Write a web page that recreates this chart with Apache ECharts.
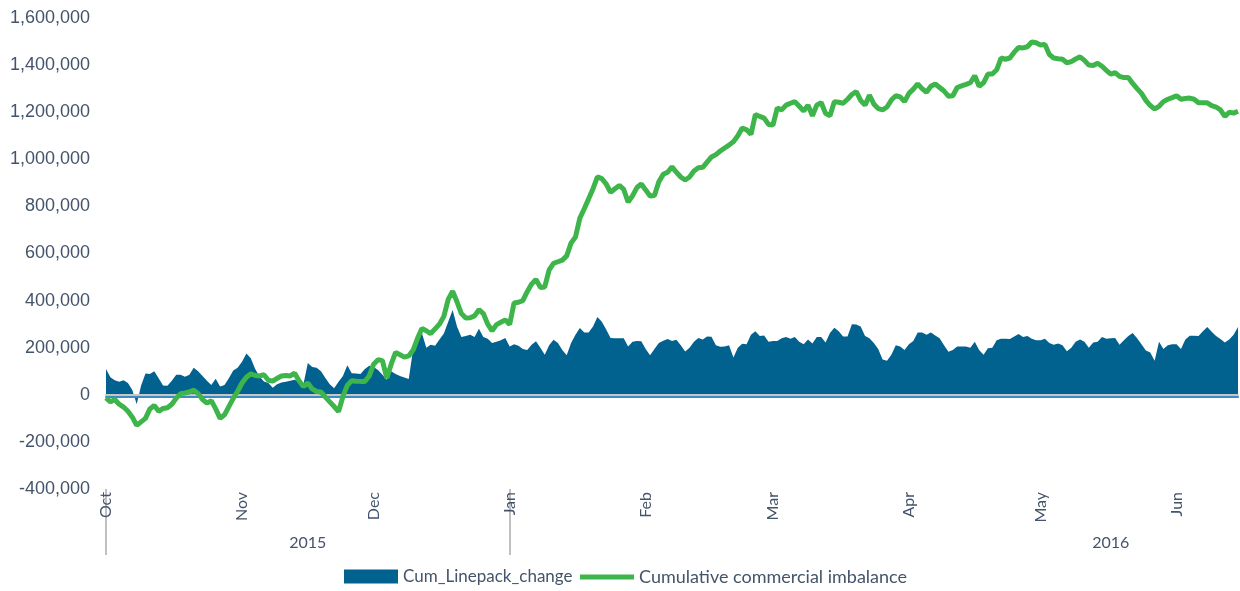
<!DOCTYPE html>
<html>
<head>
<meta charset="utf-8">
<title>Cumulative imbalance vs linepack</title>
<script src="https://cdn.jsdelivr.net/npm/echarts@6/dist/echarts.min.js"></script>
<style>
  html, body { margin: 0; padding: 0; background: #fff; }
  #main { width: 1240px; height: 591px; }
</style>
</head>
<body>
<div id="main"></div>
<script>
// daily values, 1 Oct 2015 .. 15 Jun 2016
let startDate = '2015-10-01'
let dayCount = 259
let monthNames = ['Jan', 'Feb', 'Mar', 'Apr', 'May', 'Jun', 'Jul', 'Aug', 'Sep', 'Oct', 'Nov', 'Dec']
let yTicks = { min: -400000, max: 1600000, step: 200000 }
let separatorIdx = [0, 92]      // Oct 1 2015, Jan 1 2016
let yearLabelIdx = [46, 229]

let linepack = [
  110000, 75000, 62000, 55000, 62000, 50000, 20000, -40000, 40000, 90000,
  88000, 100000, 70000, 40000, 38000, 60000, 85000, 85000, 77000, 85000,
  115000, 100000, 80000, 60000, 42000, 68000, 35000, 42000, 70000, 103000,
  115000, 140000, 175000, 155000, 110000, 78000, 57000, 50000, 30000, 45000,
  52000, 55000, 60000, 64000, 55000, 45000, 135000, 118000, 115000, 100000,
  71000, 45000, 28000, 55000, 80000, 125000, 92000, 90000, 88000, 110000,
  123000, 118000, 105000, 85000, 64000, 100000, 88000, 80000, 73000, 67000,
  195000, 235000, 262000, 200000, 213000, 208000, 235000, 260000, 310000, 360000,
  290000, 245000, 250000, 255000, 245000, 280000, 245000, 238000, 220000, 225000,
  232000, 241000, 205000, 215000, 208000, 195000, 190000, 213000, 227000, 200000,
  170000, 210000, 234000, 220000, 190000, 168000, 220000, 255000, 284000, 265000,
  265000, 290000, 330000, 310000, 277000, 241000, 240000, 240000, 240000, 205000,
  225000, 228000, 227000, 195000, 168000, 195000, 220000, 230000, 237000, 228000,
  234000, 210000, 184000, 200000, 225000, 241000, 235000, 248000, 247000, 210000,
  204000, 205000, 210000, 158000, 200000, 217000, 215000, 255000, 270000, 250000,
  252000, 225000, 228000, 228000, 240000, 245000, 238000, 245000, 225000, 215000,
  235000, 218000, 245000, 245000, 222000, 262000, 285000, 270000, 248000, 248000,
  300000, 298000, 290000, 250000, 240000, 220000, 195000, 150000, 145000, 170000,
  210000, 205000, 190000, 215000, 228000, 265000, 265000, 255000, 265000, 252000,
  240000, 210000, 183000, 190000, 205000, 205000, 205000, 200000, 225000, 190000,
  170000, 198000, 200000, 232000, 238000, 238000, 237000, 248000, 258000, 245000,
  250000, 238000, 232000, 232000, 238000, 220000, 212000, 218000, 210000, 185000,
  200000, 225000, 235000, 225000, 200000, 222000, 225000, 245000, 238000, 240000,
  241000, 213000, 232000, 250000, 262000, 240000, 215000, 188000, 180000, 145000,
  225000, 195000, 210000, 215000, 215000, 195000, 235000, 251000, 251000, 250000,
  270000, 288000, 268000, 250000, 237000, 222000, 235000, 255000, 288000
]

let imbalance = [
  -13000, -30000, -20000, -40000, -52000, -70000, -95000, -130000, -115000, -100000,
  -60000, -45000, -70000, -58000, -55000, -40000, -15000, 5000, 8000, 12000,
  20000, 5000, -20000, -35000, -25000, -60000, -100000, -85000, -50000, -15000,
  15000, 50000, 75000, 89000, 82000, 80000, 85000, 62000, 58000, 70000,
  80000, 82000, 80000, 92000, 60000, 35000, 50000, 25000, 14000, 12000,
  -10000, -30000, -50000, -71000, -7000, 40000, 60000, 58000, 57000, 57000,
  80000, 130000, 149000, 145000, 71000, 130000, 180000, 170000, 160000, 165000,
  190000, 240000, 282000, 272000, 260000, 280000, 300000, 333000, 405000, 440000,
  395000, 345000, 326000, 327000, 335000, 362000, 345000, 300000, 272000, 298000,
  308000, 318000, 298000, 390000, 393000, 400000, 438000, 470000, 490000, 456000,
  458000, 530000, 558000, 565000, 572000, 590000, 645000, 670000, 750000, 790000,
  832000, 875000, 925000, 918000, 895000, 860000, 875000, 889000, 872000, 818000,
  845000, 880000, 895000, 870000, 844000, 846000, 905000, 936000, 945000, 968000,
  945000, 925000, 912000, 925000, 950000, 964000, 966000, 988000, 1010000, 1020000,
  1035000, 1048000, 1060000, 1075000, 1100000, 1133000, 1125000, 1106000, 1190000, 1182000,
  1175000, 1148000, 1145000, 1218000, 1210000, 1230000, 1238000, 1245000, 1225000, 1205000,
  1230000, 1185000, 1230000, 1241000, 1195000, 1185000, 1244000, 1242000, 1238000, 1255000,
  1275000, 1288000, 1250000, 1230000, 1272000, 1235000, 1215000, 1210000, 1222000, 1252000,
  1270000, 1265000, 1245000, 1280000, 1298000, 1320000, 1300000, 1285000, 1310000, 1320000,
  1305000, 1290000, 1268000, 1270000, 1305000, 1312000, 1318000, 1325000, 1355000, 1310000,
  1325000, 1362000, 1362000, 1380000, 1430000, 1425000, 1430000, 1455000, 1475000, 1473000,
  1478000, 1498000, 1495000, 1485000, 1488000, 1445000, 1430000, 1427000, 1425000, 1410000,
  1415000, 1426000, 1435000, 1420000, 1400000, 1398000, 1408000, 1395000, 1378000, 1362000,
  1368000, 1352000, 1347000, 1347000, 1322000, 1300000, 1280000, 1250000, 1228000, 1214000,
  1225000, 1245000, 1255000, 1262000, 1270000, 1255000, 1258000, 1260000, 1255000, 1240000,
  1240000, 1240000, 1228000, 1222000, 1210000, 1182000, 1200000, 1196000, 1204000
]

// category labels: one per day
let dates = []
let d0 = new Date(startDate + 'T00:00:00Z')
for (let i = 0; i < dayCount; i++) {
  let d = new Date(d0.getTime() + i * 86400000)
  dates.push(d.toISOString().slice(0, 10))
}

let blue = '#02628f'
let green = '#3db54a'
let textColor = '#44546a'
let labelFont = 'Lato'

let gridBox = { left: 106, right: 2, top: 18, bottom: 102 }

let hiddenY = (idx) => ({
  gridIndex: idx, type: 'value', show: false,
  min: yTicks.min, max: yTicks.max, interval: yTicks.step
})

let myChart = echarts.init(document.getElementById('main'))

let option = {
  animation: false,
  grid: [gridBox, gridBox, gridBox],
  xAxis: [
    {
      // zero line
      gridIndex: 0, type: 'category', data: dates, boundaryGap: false, z: 3,
      axisLine: { onZero: true, lineStyle: { color: '#c6c6c6', width: 2, shadowColor: '#3c8ac6', shadowOffsetY: 2 } },
      axisTick: { show: false },
      axisLabel: { show: false }
    },
    {
      // month labels + year separators
      gridIndex: 1, type: 'category', data: dates, boundaryGap: false,
      axisLine: { show: false, onZero: false },
      axisTick: {
        show: true, length: 66,
        interval: (i) => separatorIdx.includes(i),
        lineStyle: { color: '#c0c0c0', width: 2 }
      },
      axisLabel: {
        interval: (i, v) => v.slice(8) === '01',
        formatter: (v) => monthNames[Number(v.slice(5, 7)) - 1],
        rotate: 90, margin: 3, fontSize: 16, color: textColor, fontFamily: labelFont
      }
    },
    {
      // year labels
      gridIndex: 2, type: 'category', data: dates, boundaryGap: false,
      axisLine: { show: false, onZero: false },
      axisTick: { show: false },
      axisLabel: {
        interval: (i) => yearLabelIdx.includes(i),
        formatter: (v) => v.slice(0, 4),
        margin: 46, fontSize: 16, color: textColor, fontFamily: labelFont
      }
    }
  ],
  yAxis: [
    {
      gridIndex: 0, type: 'value',
      min: yTicks.min, max: yTicks.max, interval: yTicks.step,
      axisLine: { show: false }, axisTick: { show: false }, splitLine: { show: false },
      axisLabel: {
        margin: 16, fontSize: 18, color: textColor, fontFamily: 'Liberation Sans',
        formatter: (v) => v.toLocaleString('en-US')
      }
    },
    hiddenY(1),
    hiddenY(2)
  ],
  legend: [
    {
      left: 344, top: 568, padding: 0, itemWidth: 54, itemHeight: 14,
      data: [{ name: 'Cum_Linepack_change', icon: 'rect' }],
      textStyle: { fontSize: 17, color: textColor, fontFamily: labelFont }
    },
    {
      left: 580, top: 568, padding: 0, itemWidth: 54, itemHeight: 5,
      data: [{ name: 'Cumulative commercial imbalance', icon: 'rect' }],
      textStyle: { fontSize: 18, color: textColor, fontFamily: labelFont }
    }
  ],
  series: [
    {
      name: 'Cum_Linepack_change', type: 'line', data: linepack,
      symbol: 'none', z: 2,
      itemStyle: { color: blue },
      lineStyle: { width: 0 },
      areaStyle: { color: blue, opacity: 1 }
    },
    {
      name: 'Cumulative commercial imbalance', type: 'line', data: imbalance,
      symbol: 'none', z: 4,
      itemStyle: { color: green },
      lineStyle: { color: green, width: 5 }
    }
  ]
}

myChart.setOption(option)
</script>
</body>
</html>
